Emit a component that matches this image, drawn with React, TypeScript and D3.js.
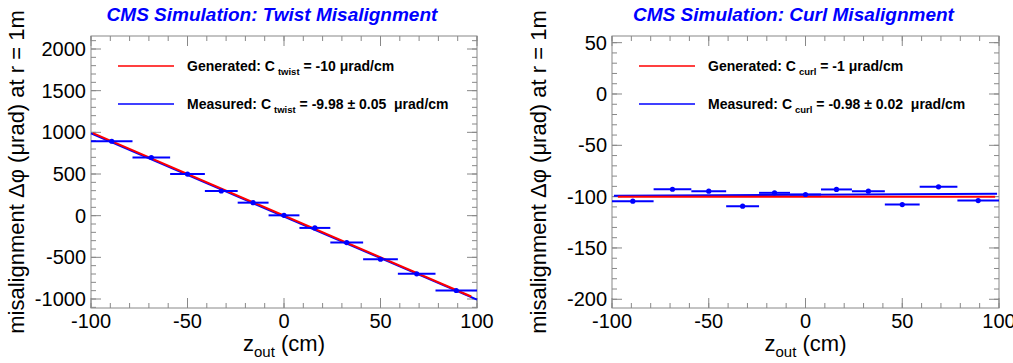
import React from 'react';
import * as d3 from 'd3';

// bin edges in z_out (cm), same binning for both plots
const binEdges = [-100, -78.5, -59, -41, -24, -8, 8, 24, 41, 59, 78.5, 100];
// measured misalignment per bin (µrad)
const twistValues = [893, 698, 499, 296, 156, 4, -147, -323, -523, -698, -898];
const curlValues = [-104.4, -92.8, -94.7, -109.3, -96.3, -97.9, -93, -94.7, -107.7, -90.4, -103.8];

const xMajor = [-100, -50, 0, 50, 100];
const twistMajor = [-1000, -500, 0, 500, 1000, 1500, 2000];
const curlMajor = [-200, -150, -100, -50, 0, 50];

const W = 1013;
const H = 363;
const FONT = '"Liberation Sans", Arial, Helvetica, sans-serif';
const BLUE = '#0000ff';
const RED = '#ff0000';
const FRAME = '#888888';

type Line = { slope: number; intercept: number; from: number; to: number };

type PanelProps = {
  x0: number;
  x1: number;
  yDomain: [number, number];
  majors: number[];
  minorStep: number;
  values: number[];
  title: string;
  sub: string;
  genText: string;
  measText: string;
  generated: Line;
  fitted: Line;
  yTitleX: number;
};

const Panel = (p: PanelProps) => {
  const top = 36;
  const bottom = 308;
  const x = d3.scaleLinear().domain([-100, 100]).range([p.x0, p.x1]);
  const y = d3.scaleLinear().domain(p.yDomain).range([bottom, top]);

  const xMinor = d3.range(-100, 100.01, 10);
  const yMinor = d3.range(Math.ceil(p.yDomain[0] / p.minorStep) * p.minorStep, p.yDomain[1], p.minorStep);

  const centers = binEdges.slice(0, -1).map((e, i) => (e + binEdges[i + 1]) / 2);
  const lineY = (l: Line, z: number) => l.slope * z + l.intercept;

  const legendX = p.x0 + 27;
  const cx = (p.x0 + p.x1) / 2;

  return (
    <g>
      <text x={cx - 12} y={21} textAnchor="middle" fill={BLUE} fontSize={19} fontWeight="bold" fontStyle="italic">
        {p.title}
      </text>

      {/* ticks */}
      {xMinor.map(v => (
        <g key={'xm' + v}>
          <line x1={x(v)} x2={x(v)} y1={bottom} y2={bottom - 5} stroke={FRAME} />
          <line x1={x(v)} x2={x(v)} y1={top} y2={top + 5} stroke={FRAME} />
        </g>
      ))}
      {xMajor.map(v => (
        <g key={'xM' + v}>
          <line x1={x(v)} x2={x(v)} y1={bottom} y2={bottom - 10} stroke={FRAME} />
          <line x1={x(v)} x2={x(v)} y1={top} y2={top + 10} stroke={FRAME} />
          <text x={x(v)} y={328} textAnchor="middle" fontSize={20}>{v}</text>
        </g>
      ))}
      {yMinor.map(v => (
        <g key={'ym' + v}>
          <line x1={p.x0} x2={p.x0 + 5} y1={y(v)} y2={y(v)} stroke={FRAME} />
          <line x1={p.x1} x2={p.x1 - 5} y1={y(v)} y2={y(v)} stroke={FRAME} />
        </g>
      ))}
      {p.majors.map(v => (
        <g key={'yM' + v}>
          <line x1={p.x0} x2={p.x0 + 10} y1={y(v)} y2={y(v)} stroke={FRAME} />
          <line x1={p.x1} x2={p.x1 - 10} y1={y(v)} y2={y(v)} stroke={FRAME} />
          <text x={p.x0 - 5} y={y(v) + 7} textAnchor="end" fontSize={20}>{v}</text>
        </g>
      ))}
      <rect x={p.x0} y={top} width={p.x1 - p.x0} height={bottom - top} fill="none" stroke={FRAME} />

      {/* generated and fitted lines */}
      <line x1={x(p.fitted.from)} x2={x(p.fitted.to)} y1={y(lineY(p.fitted, p.fitted.from))} y2={y(lineY(p.fitted, p.fitted.to))}
        stroke={BLUE} strokeWidth={2} />
      <line x1={x(p.generated.from)} x2={x(p.generated.to)} y1={y(lineY(p.generated, p.generated.from))} y2={y(lineY(p.generated, p.generated.to))}
        stroke={RED} strokeWidth={2} />

      {/* data points with bin-width bars */}
      {p.values.map((v, i) => (
        <g key={'p' + i}>
          <line x1={x(binEdges[i])} x2={x(binEdges[i + 1])} y1={y(v)} y2={y(v)} stroke={BLUE} strokeWidth={2} />
          <circle cx={x(centers[i])} cy={y(v)} r={2.6} fill={BLUE} />
        </g>
      ))}

      {/* legend */}
      <line x1={legendX} x2={legendX + 56} y1={66} y2={66} stroke={RED} strokeWidth={1.5} />
      <text x={legendX + 69} y={70.5} fontSize={14} fontWeight="bold">
        Generated: C<tspan dx={3} dy={4} fontSize={9.5}>{p.sub}</tspan><tspan dy={-4}>{' ' + p.genText}</tspan>
      </text>
      <line x1={legendX} x2={legendX + 56} y1={104} y2={104} stroke={BLUE} strokeWidth={1.5} />
      <text x={legendX + 69} y={108.5} fontSize={14} fontWeight="bold">
        Measured: C<tspan dx={3} dy={4} fontSize={9.5}>{p.sub}</tspan><tspan dy={-4} style={{ whiteSpace: 'pre' }}>{' ' + p.measText}</tspan>
      </text>

      {/* axis titles */}
      <text x={cx} y={351} textAnchor="middle" fontSize={22}>
        z<tspan dy={6} fontSize={15}>out</tspan><tspan dy={-6}>{' (cm)'}</tspan>
      </text>
      <text transform={`translate(${p.yTitleX},${(top + bottom) / 2}) rotate(-90)`} textAnchor="middle" fontSize={22}>
        misalignment Δφ (μrad) at r = 1m
      </text>
    </g>
  );
};

export default function App() {
  return (
    <svg width={W} height={H} style={{ display: 'block', position: 'absolute', left: 0, top: 0, background: '#fff' }}
      fontFamily={FONT}>
      <rect width={W} height={H} fill="#fff" />
      <Panel
        x0={91} x1={477}
        yDomain={[-1108, 2156]}
        majors={twistMajor}
        minorStep={100}
        values={twistValues}
        title="CMS Simulation: Twist Misalignment"
        sub="twist"
        genText="= -10 μrad/cm"
        measText="= -9.98 ± 0.05  μrad/cm"
        generated={{ slope: -10, intercept: 0, from: -99, to: 97 }}
        fitted={{ slope: -9.98, intercept: -10, from: -100, to: 100 }}
        yTitleX={24}
      />
      <Panel
        x0={612} x1={999}
        yDomain={[-208.5, 56.5]}
        majors={curlMajor}
        minorStep={10}
        values={curlValues}
        title="CMS Simulation: Curl Misalignment"
        sub="curl"
        genText="= -1 μrad/cm"
        measText="= -0.98 ± 0.02  μrad/cm"
        generated={{ slope: 0, intercept: -100, from: -97, to: 98 }}
        fitted={{ slope: 0.01, intercept: -98.2, from: -99, to: 99 }}
        yTitleX={546}
      />
    </svg>
  );
}
